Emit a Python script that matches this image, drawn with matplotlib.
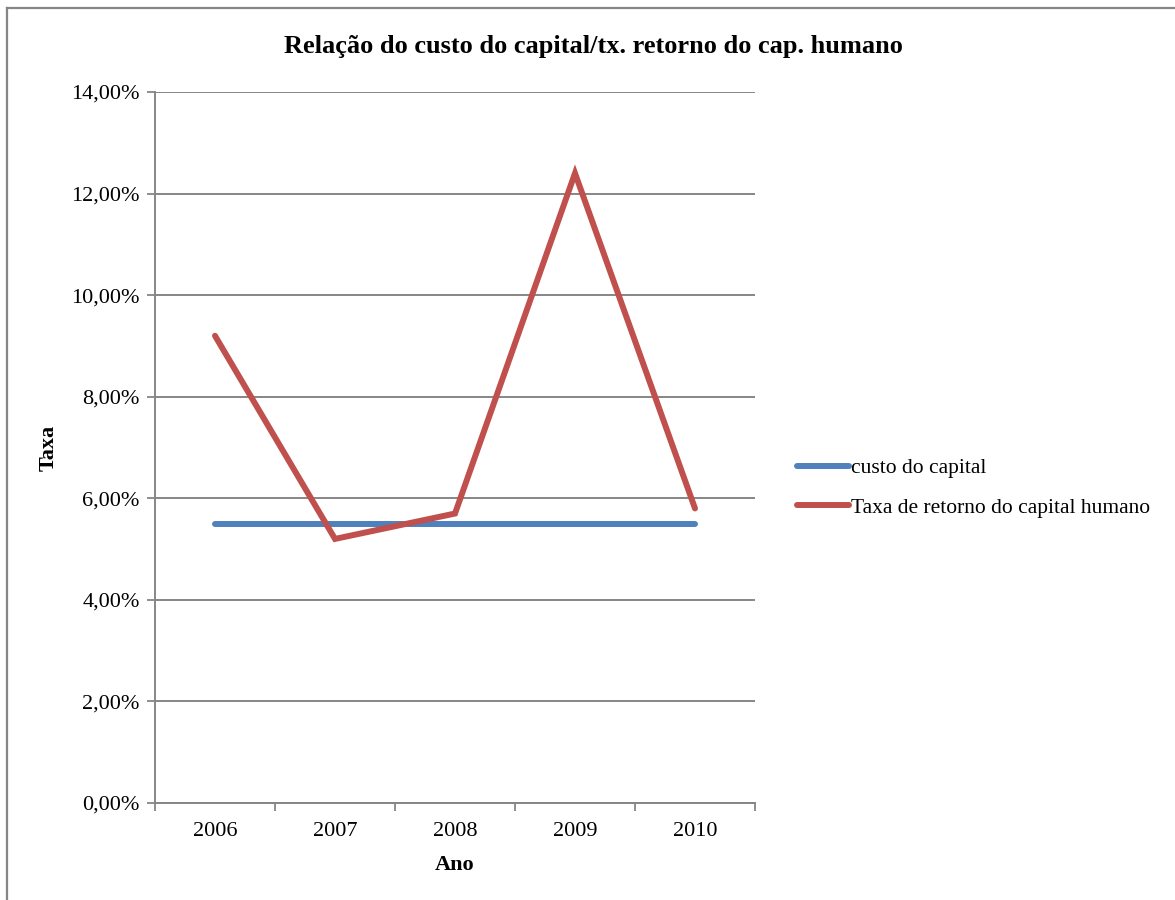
import matplotlib.pyplot as plt
from matplotlib.ticker import FuncFormatter, FixedLocator
from matplotlib.lines import Line2D

plt.rcParams['font.family'] = ['Liberation Serif', 'DejaVu Serif']

anos = ['2006', '2007', '2008', '2009', '2010']
custo_capital = [5.5, 5.5, 5.5, 5.5, 5.5]
taxa_retorno = [9.2, 5.2, 5.7, 12.4, 5.8]

grid_cor = '#868686'
azul = '#4F81BD'
vermelho = '#C0504D'

fig = plt.figure(figsize=(11.75, 9), dpi=100)
ax = fig.add_axes([155 / 1175, 1 - 803 / 900, 600 / 1175, (803 - 92) / 900])

x = list(range(len(anos)))
ax.plot(x, custo_capital, color=azul, lw=4.3, solid_capstyle='round', label='custo do capital')
ax.plot(x, taxa_retorno, color=vermelho, lw=4.3, solid_capstyle='round',
        solid_joinstyle='miter', label='Taxa de retorno do capital humano')

ax.set_xlim(-0.5, len(anos) - 0.5)
ax.set_ylim(0, 14)
ax.set_yticks([0, 2, 4, 6, 8, 10, 12, 14])
ax.yaxis.set_major_formatter(FuncFormatter(lambda v, p: f'{v:.2f}%'.replace('.', ',')))

# categorias centradas, marcas de divisao entre elas
ax.set_xticks(x)
ax.set_xticklabels(anos)
ax.xaxis.set_minor_locator(FixedLocator([i - 0.5 for i in range(len(anos) + 1)]))
ax.tick_params(axis='x', which='major', length=0, pad=14, labelsize=16)
ax.tick_params(axis='x', which='minor', length=6, width=1.3, color=grid_cor)
ax.tick_params(axis='y', length=6, width=1.3, color=grid_cor, pad=5, labelsize=16)

ax.grid(axis='y', color=grid_cor, lw=1.4)
ax.set_axisbelow(True)
for s in ['top', 'right']:
    ax.spines[s].set_visible(False)
for s in ['left', 'bottom']:
    ax.spines[s].set_color(grid_cor)
    ax.spines[s].set_linewidth(1.4)

fig.text(593 / 1175, 1 - 47 / 900, 'Relação do custo do capital/tx. retorno do cap. humano',
         fontsize=19, fontweight='bold', ha='center', va='center')
ax.set_xlabel('Ano', fontsize=16, fontweight='bold', labelpad=10)
ax.set_ylabel('Taxa', fontsize=16, fontweight='bold', labelpad=9)

leg = fig.legend(loc='center left', bbox_to_anchor=(778 / 1175, 1 - 488 / 900),
                 frameon=False, fontsize=15.5, handlelength=2.4, handletextpad=0.1,
                 labelspacing=0.9)

# moldura do grafico (so superior e esquerda)
fig.add_artist(Line2D([7 / 1175, 7 / 1175], [0, 1 - 8 / 900], transform=fig.transFigure,
                      color=grid_cor, lw=1.6))
fig.add_artist(Line2D([7 / 1175, 1], [1 - 8 / 900, 1 - 8 / 900], transform=fig.transFigure,
                      color=grid_cor, lw=1.6))

fig.savefig('out.png', dpi=100, facecolor='white')
